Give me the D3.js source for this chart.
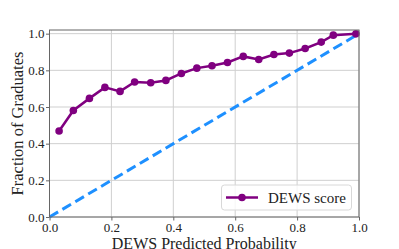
<!DOCTYPE html>
<html><head><meta charset="utf-8">
<script src="https://cdn.jsdelivr.net/npm/d3@7"></script>
<style>body{margin:0;background:#fff}svg{display:block}</style>
</head><body>
<svg id="c" width="399" height="249"></svg>
<script>
const xVals = [0.031,0.077,0.129,0.179,0.228,0.275,0.327,0.376,0.426,0.476,0.525,0.575,0.626,0.676,0.725,0.775,0.826,0.878,0.917,0.990];
const yVals = [0.469,0.581,0.647,0.707,0.685,0.736,0.732,0.745,0.783,0.812,0.825,0.843,0.876,0.859,0.886,0.894,0.919,0.954,0.992,0.999];
const tickVals = [0,0.2,0.4,0.6,0.8,1.0];
const diag = [0,1];
const seriesName = "DEWS score";
const xLabel = "DEWS Predicted Probability";
const yLabel = "Fraction of Graduates";

const font = "'Liberation Serif', serif";
const svg = d3.select("#c");
const L=49.5, R=359, T=30, B=217;
const x = d3.scaleLinear().domain([0,1]).range([L,R]);
const y = d3.scaleLinear().domain([0,1.02]).range([B,T]);

// grid
const g = svg.append("g");
g.selectAll(".gx").data(tickVals).join("line")
 .attr("x1",d=>x(d)).attr("x2",d=>x(d)).attr("y1",T).attr("y2",B)
 .attr("stroke","#cfcfcf").attr("stroke-width",1);
g.selectAll(".gy").data(tickVals).join("line")
 .attr("y1",d=>y(d)).attr("y2",d=>y(d)).attr("x1",L).attr("x2",R)
 .attr("stroke","#cfcfcf").attr("stroke-width",1);

// axes
const xa = svg.append("g").attr("transform",`translate(0,${B})`)
 .call(d3.axisBottom(x).tickValues(tickVals).tickFormat(d3.format(".1f")).tickSize(3.5).tickPadding(2));
const ya = svg.append("g").attr("transform",`translate(${L},0)`)
 .call(d3.axisLeft(y).tickValues(tickVals).tickFormat(d3.format(".1f")).tickSize(3.5).tickPadding(1.5));
[xa,ya].forEach(a=>{a.select(".domain").remove();
 a.selectAll("line").attr("stroke","#666");
 a.selectAll("text").attr("font-family",font).attr("font-size",13).attr("fill","#222");});

// diagonal
svg.append("path").datum(diag)
 .attr("d",d3.line().x(d=>x(d)).y(d=>y(d)))
 .attr("stroke","#1e90ff").attr("stroke-width",3).attr("stroke-dasharray","10,5").attr("fill","none");

// series
const pts = xVals.map((v,i)=>[v,yVals[i]]);
svg.append("path").datum(pts)
 .attr("d",d3.line().x(d=>x(d[0])).y(d=>y(d[1])))
 .attr("stroke","#800080").attr("stroke-width",2.5).attr("fill","none");
svg.selectAll(".pt").data(pts).join("circle")
 .attr("cx",d=>x(d[0])).attr("cy",d=>y(d[1])).attr("r",3.8).attr("fill","#800080");

// frame
svg.append("rect").attr("x",L).attr("y",T).attr("width",R-L).attr("height",B-T)
 .attr("fill","none").attr("stroke","#666").attr("stroke-width",1);

// legend
const lg = svg.append("g");
lg.append("rect").attr("x",221.5).attr("y",185).attr("width",130).attr("height",25).attr("rx",3)
 .attr("fill","#fff").attr("fill-opacity",0.8).attr("stroke","#d8d8d8");
lg.append("line").attr("x1",226).attr("x2",258).attr("y1",197.5).attr("y2",197.5).attr("stroke","#800080").attr("stroke-width",2.5);
lg.append("circle").attr("cx",242).attr("cy",197.5).attr("r",3.8).attr("fill","#800080");
lg.append("text").attr("x",268).attr("y",202.5).text(seriesName)
 .attr("font-family",font).attr("font-size",15).attr("fill","#222");

// labels
svg.append("text").attr("x",(L+R)/2).attr("y",248.5).attr("text-anchor","middle")
 .attr("font-family",font).attr("font-size",16).attr("fill","#222").text(xLabel);
svg.append("text").attr("transform",`translate(23,${(T+B)/2}) rotate(-90)`).attr("text-anchor","middle")
 .attr("font-family",font).attr("font-size",16.5).attr("fill","#222").text(yLabel);
</script>
</body></html>
